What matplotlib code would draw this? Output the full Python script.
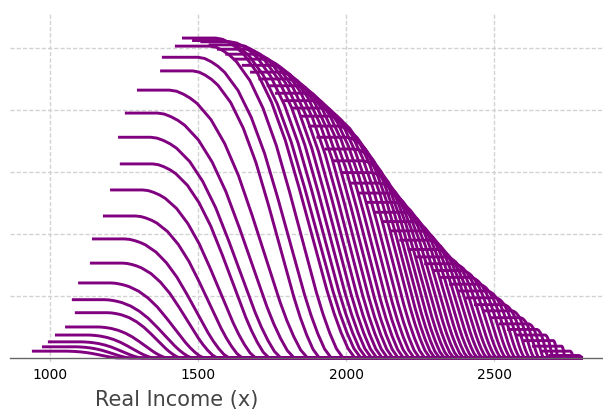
import matplotlib.pyplot as plt
import numpy as np

# curves that rise on the left side of the hump (start x, plateau height, bend x, end x)
left_start = [939, 973, 993, 1017, 1051, 1084, 1074, 1095, 1135, 1142,
              1179, 1203, 1236, 1230, 1253, 1294, 1372, 1378, 1422, 1446]
left_height = [0.11, 0.18, 0.26, 0.37, 0.50, 0.73, 0.94, 1.21, 1.53, 1.92,
               2.29, 2.71, 3.13, 3.56, 3.95, 4.32, 4.63, 4.85, 5.03, 5.16]
left_bend = [1049, 1083, 1103, 1127, 1161, 1194, 1184, 1205, 1245, 1252,
             1289, 1313, 1346, 1340, 1363, 1404, 1482, 1500, 1540, 1560]
left_end = [1230, 1270, 1310, 1350, 1395, 1440, 1480, 1520, 1565, 1605,
            1650, 1695, 1740, 1780, 1825, 1870, 1910, 1950, 1990, 2030]

# curves whose corners sit on the falling right side (bend x, height, end x)
right_bend = [1580, 1608, 1636, 1664, 1692, 1720, 1748, 1776, 1804, 1832,
              1860, 1888, 1916, 1944, 1972, 2000, 2028, 2056, 2084, 2112,
              2140, 2168, 2196, 2224, 2252, 2280, 2308, 2336, 2364, 2392,
              2420, 2448, 2476, 2504, 2532, 2560, 2588, 2616, 2644, 2672,
              2700, 2728, 2756, 2784]
right_height = [5.12, 5.10, 5.05, 4.98, 4.90, 4.82, 4.72, 4.61, 4.50, 4.39,
                4.27, 4.15, 4.03, 3.90, 3.74, 3.56, 3.37, 3.18, 2.99, 2.82,
                2.66, 2.51, 2.35, 2.20, 2.05, 1.90, 1.75, 1.63, 1.52, 1.41,
                1.30, 1.19, 1.08, 0.97, 0.86, 0.76, 0.65, 0.55, 0.46, 0.37,
                0.28, 0.19, 0.11, 0.04]
right_end = [2050, 2068, 2086, 2104, 2122, 2140, 2158, 2176, 2194, 2212,
             2230, 2248, 2266, 2284, 2300, 2316, 2332, 2348, 2364, 2380,
             2396, 2412, 2428, 2444, 2460, 2476, 2492, 2508, 2524, 2540,
             2556, 2572, 2588, 2604, 2620, 2636, 2652, 2668, 2684, 2700,
             2716, 2740, 2770, 2800]
right_plateau = 100

# shape of one descent (fraction of width, fraction of height)
shape_t = [0.0, 0.05, 0.1, 0.15, 0.2, 0.3, 0.4, 0.5, 0.6, 0.7, 0.8, 0.85, 0.9, 0.95, 1.0]
shape_f = [1.0, 0.996, 0.985, 0.97, 0.95, 0.89, 0.80, 0.68, 0.53, 0.37, 0.21, 0.14, 0.08, 0.03, 0.0]

x_last = 2800
x_ticks = [1000, 1500, 2000, 2500]
y_grid = [1, 2, 3, 4, 5]
curve_color = '#800080'


def curve(start, bend, height, end):
    t = np.array(shape_t)
    f = np.array(shape_f)
    xs = np.concatenate([[start, bend], bend + t * (end - bend), [x_last]])
    ys = np.concatenate([[height, height], height * f, [0.0]])
    return xs, ys


def main():
    fig = plt.figure(figsize=(6.03, 4.12), dpi=100)
    ax = fig.add_axes([10 / 603, 50 / 412, 593 / 603, 348 / 412])

    for s, p, h, e in zip(left_start, left_bend, left_height, left_end):
        xs, ys = curve(s, p, h, e)
        ax.plot(xs, ys, color=curve_color, lw=2.1, solid_capstyle='butt')
    for p, h, e in zip(right_bend, right_height, right_end):
        xs, ys = curve(p - right_plateau, p, h, e)
        ax.plot(xs, ys, color=curve_color, lw=2.1, solid_capstyle='butt')

    ax.set_xlim(865, 2868)
    ax.set_ylim(-0.065, 5.548)
    ax.set_xticks(x_ticks)
    ax.set_xticklabels([str(v) for v in x_ticks], fontsize=12, color='#444444')
    ax.set_yticks(y_grid)
    ax.tick_params(axis='x', length=0, pad=7)
    ax.tick_params(axis='y', length=0, labelleft=False)
    ax.grid(True, color='#d2d2d2', lw=1, linestyle=(0, (3, 1.5)))
    ax.set_axisbelow(True)

    for side in ['top', 'right', 'left']:
        ax.spines[side].set_visible(False)
    ax.spines['bottom'].set_position(('data', 0))
    ax.spines['bottom'].set_color('#666666')
    ax.spines['bottom'].set_linewidth(1)

    ax.set_xlabel('Real Income (x)', fontsize=15, color='#444444', va='center')
    ax.xaxis.set_label_coords(167 / 593, -38 / 348)

    fig.savefig('out.png', dpi=100)


if __name__ == "__main__":
    main()
